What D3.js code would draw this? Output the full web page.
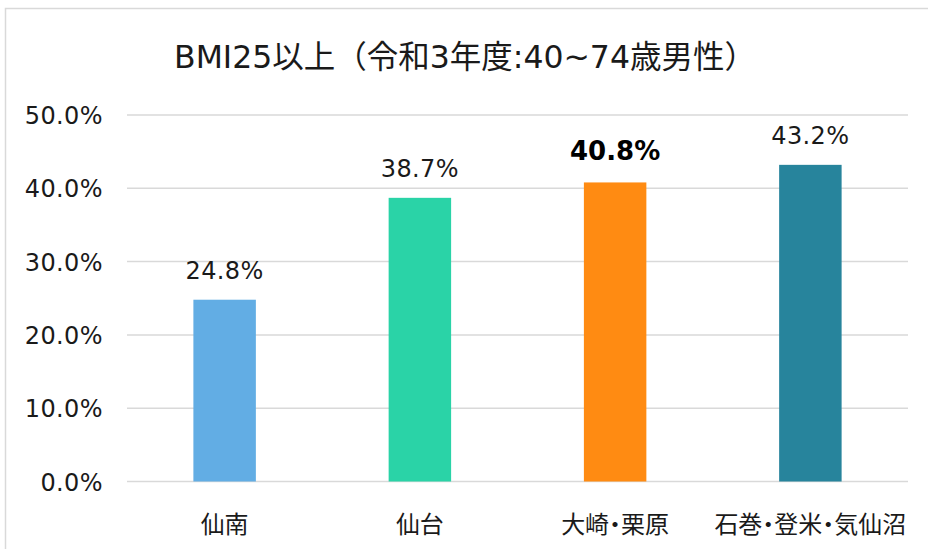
<!DOCTYPE html>
<html><head><meta charset="utf-8">
<script src="https://cdn.jsdelivr.net/npm/d3@7"></script>
<style>
html,body{margin:0;padding:0;background:#fff;}
svg{display:block;}
.cat text{font-feature-settings:"palt" 1;}
</style></head>
<body>
<svg id="chart" width="928" height="549"></svg>
<script>
const title = "BMI25以上（令和3年度:40~74歳男性）";
const categories = ["仙南", "仙台", "大崎・栗原", "石巻・登米・気仙沼"];
const values = [24.8, 38.7, 40.8, 43.2];
const colors = ["#62ADE4", "#2AD3A7", "#FF8B12", "#27849C"];
const boldIndex = [false, false, true, false];
const yTicks = [0, 10, 20, 30, 40, 50];

const svg = d3.select("#chart");
const W = 928, H = 549;

// frame
svg.append("path")
  .attr("d", `M5.5,${H} V8.5 H${W}`)
  .attr("fill", "none").attr("stroke", "#d9d9d9").attr("stroke-width", 1.5);

const x = d3.scaleBand().domain(categories).range([127, 908]).paddingInner(0.68).paddingOuter(0.34);
const y = d3.scaleLinear().domain([0, 50]).range([481.5, 115]);

// gridlines
svg.append("g").selectAll("line").data(yTicks).join("line")
  .attr("x1", 127).attr("x2", 908)
  .attr("y1", d => y(d)).attr("y2", d => y(d))
  .attr("stroke", "#d9d9d9").attr("stroke-width", 1.5);

// y axis labels
const yAxis = d3.axisLeft(y).tickValues(yTicks).tickSize(0).tickPadding(0)
  .tickFormat(d => d.toFixed(1) + "%");
const ya = svg.append("g").attr("transform", "translate(103,0)").call(yAxis);
ya.select(".domain").remove();
ya.selectAll("text").attr("font-family", "DejaVu Sans, Verdana, sans-serif")
  .attr("font-size", 24).attr("letter-spacing", 0.4).attr("fill", "#1a1a1a").attr("dy", "0.36em");

// bars
svg.append("g").selectAll("rect").data(values).join("rect")
  .attr("x", (d, i) => x(categories[i]))
  .attr("width", x.bandwidth())
  .attr("y", d => y(d))
  .attr("height", d => y(0) - y(d))
  .attr("fill", (d, i) => colors[i]);

// value labels
svg.append("g").selectAll("text").data(values).join("text")
  .attr("x", (d, i) => x(categories[i]) + x.bandwidth() / 2)
  .attr("y", (d, i) => y(d) - (boldIndex[i] ? 22 : 21))
  .attr("text-anchor", "middle")
  .attr("font-family", "DejaVu Sans, Verdana, sans-serif")
  .attr("font-size", (d, i) => boldIndex[i] ? 26 : 24)
  .attr("letter-spacing", (d, i) => boldIndex[i] ? 0 : 0.4)
  .attr("font-weight", (d, i) => boldIndex[i] ? "bold" : "normal")
  .attr("fill", (d, i) => boldIndex[i] ? "#000" : "#1a1a1a")
  .text(d => d.toFixed(1) + "%");

// category labels
const xa = svg.append("g").attr("class", "cat").attr("transform", "translate(0,533)")
  .call(d3.axisBottom(x).tickSize(0).tickPadding(0));
xa.select(".domain").remove();
xa.selectAll("text").attr("dy", 0)
  .attr("font-family", "Noto Sans CJK JP, sans-serif")
  .attr("font-size", 24).attr("fill", "#1a1a1a");

// title
svg.append("text")
  .attr("x", 465).attr("y", 68)
  .attr("text-anchor", "middle")
  .attr("font-family", "DejaVu Sans, Noto Sans CJK JP, sans-serif")
  .attr("font-size", 31.5).attr("fill", "#1a1a1a")
  .text(title);
</script>
</body></html>
